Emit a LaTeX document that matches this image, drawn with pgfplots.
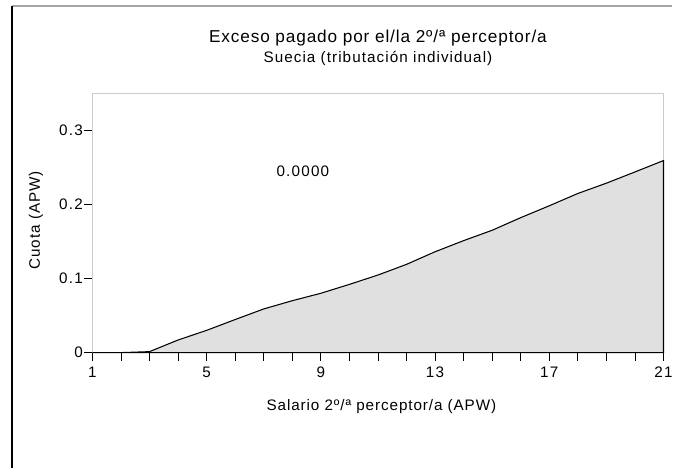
\documentclass[border=0pt]{standalone}
\usepackage{pgfplots}
\pgfplotsset{compat=1.18}
\usepackage{fontspec}
\setmainfont{Liberation Sans}
\newfontfamily\lsp[LetterSpace=6]{Liberation Sans}
\newfontfamily\lspk[LetterSpace=8]{Liberation Sans}
\newfontfamily\lsps[LetterSpace=7]{Liberation Sans}
\newfontfamily\lspt[LetterSpace=5]{Liberation Sans}
\pgfplotstableread{
x y
1 0
2 0
3 0.0013
4 0.017
5 0.030
6 0.0446
7 0.0589
8 0.070
9 0.080
10 0.092
11 0.1046
12 0.119
13 0.136
14 0.151
15 0.165
16 0.182
17 0.198
18 0.2146
19 0.2285
20 0.2436
21 0.259
}\datatable
\begin{document}
\begin{tikzpicture}
\path[draw=none, fill=none] (0pt,0pt) rectangle (507.75pt,353.25pt);
\draw[gray!70, line width=1.5pt] (9pt,348.4pt) -- (507.75pt,348.4pt);
\draw[black, line width=1.5pt] (9.4pt,0pt) -- (9.4pt,348.9pt);
\begin{axis}[
  at={(69.75pt,87pt)}, anchor=south west,
  scale only axis, width=431.25pt, height=195.75pt,
  xmin=1, xmax=21, ymin=0, ymax=0.3496,
  xtick={1,5,9,13,17,21},
  minor xtick={1,...,21},
  ytick={0,0.1,0.2,0.3},
  tick align=outside,
  xtick pos=bottom, ytick pos=left,
  major tick length=6pt, minor tick length=6pt,
  every tick/.style={black, line width=0.6pt},
  axis line style={draw=gray!40, line width=0.8pt},
  /pgf/number format/assume math mode=true,
  tick label style={font=\fontsize{11.5}{13}\lspk},
  yticklabel style={inner sep=1pt},
  xticklabel style={yshift=-1pt},
  clip=false,
  title={\fontsize{13}{14}\lspt Exceso pagado por el/la 2º/ª perceptor/a\\[2.5pt]\fontsize{11.5}{13}\lsps Suecia (tributación individual)},
  title style={align=center, at={(rel axis cs:0.5,1.145)}, anchor=center},
  xlabel={\fontsize{11.5}{13}\lsp Salario 2º/ª perceptor/a (APW)},
  xlabel style={at={(rel axis cs:0.506,-0.207)}, anchor=center},
  ylabel={\fontsize{11.5}{13}\lsp Cuota (APW)},
  ylabel style={at={(rel axis cs:-0.099,0.51)}, anchor=center},
]
\addplot[draw=black, line width=0.8pt, fill=black!12] table[x=x,y=y]{\datatable} \closedcycle;
\node[font=\fontsize{11.5}{13}\lspk] at (axis cs:8.37,0.245) {0.0000};
\end{axis}
\end{tikzpicture}
\end{document}
